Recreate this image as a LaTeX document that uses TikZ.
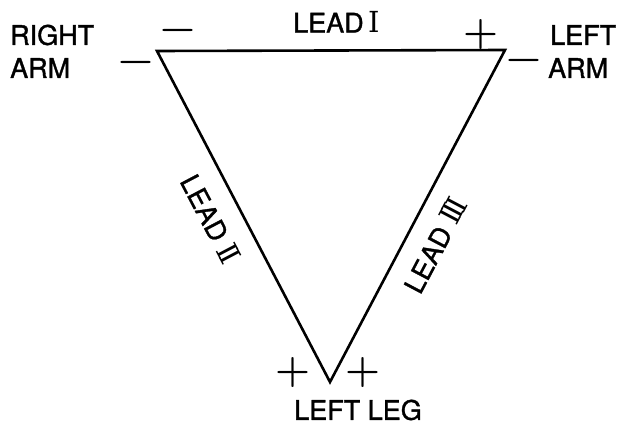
\documentclass[tikz,border=0pt]{standalone}
\usepackage{fontspec}
\setmainfont{TeX Gyre Heros}[FakeBold=1.2]
\newfontfamily\romfont{Latin Modern Roman}
\newfontfamily\slabfont{DejaVu Serif}
\newcommand{\rnum}[1]{{\slabfont\fontsize{29}{29}\selectfont #1}}
\newcommand{\rII}{\rnum{I\kern-4.7ptI}}
\newcommand{\rIII}{\rnum{I\kern-4.7ptI\kern-4.7ptI}}
\begin{document}
\begin{tikzpicture}[x=1pt,y=-1pt,
  lbl/.style={font=\fontsize{27}{28}\selectfont, inner sep=0pt},
  sgn/.style={font=\romfont\bfseries\fontsize{40}{40}\selectfont, inner sep=0pt},
  edge/.style={line width=2.6pt, line join=miter}]
\useasboundingbox (0,0) rectangle (622,434);
\coordinate (ra) at (157,51);
\coordinate (la) at (505,50);
\coordinate (ll) at (330,382);
\draw[edge] (ra) -- (la) -- (ll) -- cycle;
% labels
\node[lbl, anchor=west] (right) at (10,35) {RIGHT};
\node[lbl, anchor=west] (rarm) at (10,68) {ARM};
\node[lbl, anchor=west] (left) at (550,35) {LEFT};
\node[lbl, anchor=west] (larm) at (548,68) {ARM};
\node[lbl, anchor=west] (lead1) at (293,22) {LEAD\,\rnum{I}};
\node[lbl, rotate=-62.3] (lead2) at (211,219) {LEAD\;\rII};
\node[lbl, rotate=62.2] (lead3) at (435,245) {LEAD\;\rIII};
\node[lbl] (leg) at (358,410) {LEFT LEG};
% polarity signs
\node[sgn] (m1) at (178,35) {−};
\node[sgn] (m2) at (136,67) {−};
\node[sgn] (p1) at (481,35) {+};
\node[sgn] (m3) at (524,65) {−};
\node[sgn] (p2) at (293,373) {+};
\node[sgn] (p3) at (363,373) {+};
\end{tikzpicture}
\end{document}
